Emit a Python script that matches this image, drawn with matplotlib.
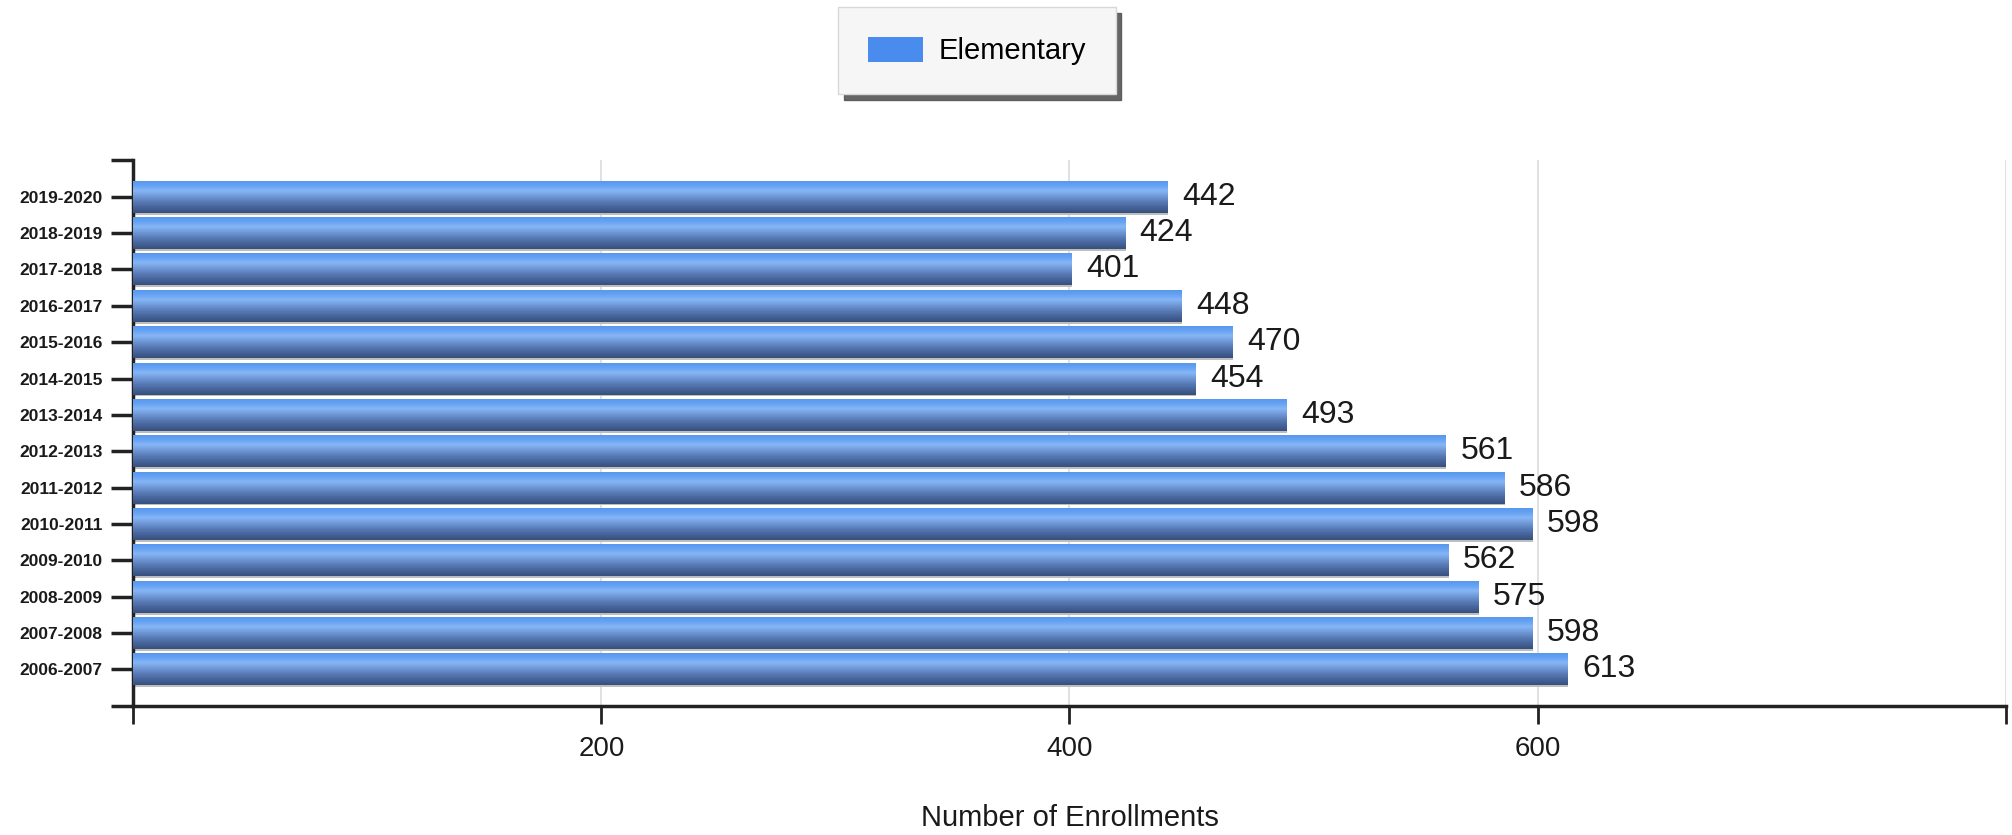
import numpy as np
import matplotlib
matplotlib.use("Agg")
import matplotlib.pyplot as plt
from matplotlib.colors import LinearSegmentedColormap
from matplotlib.patches import Patch

plt.rcParams['font.family'] = ['Liberation Sans Narrow', 'Liberation Sans', 'DejaVu Sans']

# ---- data (bottom to top) ----
years = ["2006-2007", "2007-2008", "2008-2009", "2009-2010", "2010-2011",
         "2011-2012", "2012-2013", "2013-2014", "2014-2015", "2015-2016",
         "2016-2017", "2017-2018", "2018-2019", "2019-2020"]
enrollments = [613, 598, 575, 562, 598, 586, 561, 493, 454, 470, 448, 401, 424, 442]
series_name = "Elementary"
x_ticks = [0, 200, 400, 600, 800]
x_tick_labels = ["", "200", "400", "600", ""]

fig = plt.figure(figsize=(20.12, 8.35), dpi=100)
ax = fig.add_axes([0.0663, 0.1547, 0.9305, 0.6533])

pos = np.arange(len(years))
h = 0.88

# gradient (top -> bottom)
grad_cmap = LinearSegmentedColormap.from_list("bar", [
    (0.00, "#5896ee"),
    (0.14, "#62a0f3"),
    (0.32, "#86b6f6"),
    (0.50, "#6f97d6"),
    (0.68, "#5678b2"),
    (0.84, "#45639a"),
    (1.00, "#384f7c"),
])
grad = grad_cmap(np.linspace(0, 1, 64))[:, None, :3]

# shadows
ax.barh(pos - 0.05, enrollments, height=h, color="#bdbdbd", zorder=1, linewidth=0)
bars = ax.barh(pos, enrollments, height=h, color="#5a8fdc", zorder=2, linewidth=0)
for b in bars:
    x0, y0 = b.get_x(), b.get_y()
    w, hh = b.get_width(), b.get_height()
    im = ax.imshow(grad, extent=(x0, x0 + w, y0, y0 + hh), aspect='auto',
                   origin='upper', zorder=3, interpolation='bilinear')
    im.set_clip_path(b)

for p, v in zip(pos, enrollments):
    ax.text(v + 6, p, str(v), va='center', ha='left', fontsize=23, color="#1a1a1a", zorder=4)

ax.set_xlim(0, 800)
ax.set_ylim(-1, 14)
ax.set_xticks(x_ticks)
ax.set_xticklabels(x_tick_labels)
ax.set_yticks(np.arange(-1, 15))
ax.set_yticklabels([""] + years + [""])

ax.grid(axis='x', color="#dcdcdc", linewidth=1.2, zorder=0)
ax.set_axisbelow(True)

for s in ["top", "right"]:
    ax.spines[s].set_visible(False)
for s in ["left", "bottom"]:
    ax.spines[s].set_color("#222222")
    ax.spines[s].set_linewidth(2.5)

ax.tick_params(axis='y', length=16, width=2.5, color="#222222", pad=6,
               labelsize=12.5, labelcolor="#1a1a1a")
ax.tick_params(axis='x', length=13, width=2.0, color="#222222", pad=9,
               labelsize=20, labelcolor="#1a1a1a")
for t in ax.get_yticklabels():
    t.set_fontweight('bold')

ax.set_xlabel("Number of Enrollments", fontsize=21, color="#1a1a1a", labelpad=30)

handle = Patch(facecolor="#4a8cee", edgecolor="none")
leg = fig.legend([handle], [series_name], loc='center', bbox_to_anchor=(0.4856, 0.939),
                 fontsize=21, frameon=True, fancybox=False,
                 shadow={'ox': 4, 'oy': -4, 'color': '#555555', 'alpha': 0.9},
                 borderpad=1.0, handlelength=1.9, handleheight=0.95, handletextpad=0.55)
leg.get_frame().set_facecolor("#f6f6f6")
leg.get_frame().set_edgecolor("#d8d8d8")
leg.get_frame().set_linewidth(1.0)

fig.savefig("out.png", dpi=100)
